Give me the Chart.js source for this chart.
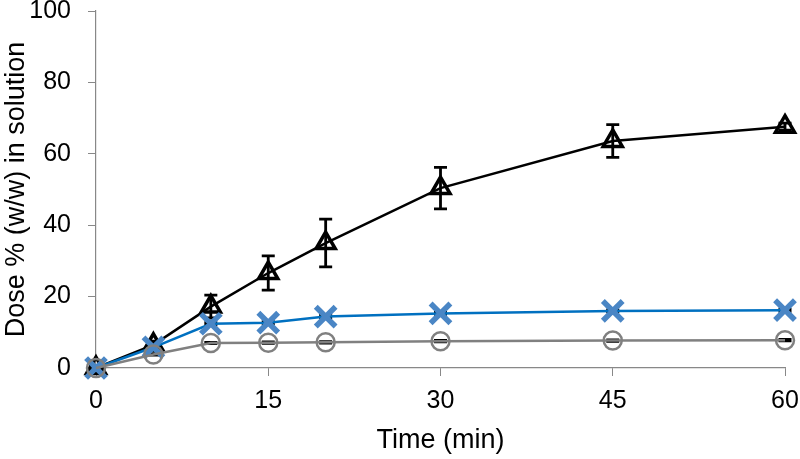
<!DOCTYPE html>
<html>
<head>
<meta charset="utf-8">
<script src="https://cdn.jsdelivr.net/npm/chart.js@4.4.0/dist/chart.umd.min.js"></script>
<style>
  html, body { margin: 0; padding: 0; background: #fff; }
  #wrap { width: 800px; height: 459px; }
</style>
</head>
<body>
<div id="wrap"><canvas id="chart1" width="800" height="459"></canvas></div>
<script>
// Time points (min)
var times = [0, 5, 10, 15, 20, 30, 45, 60];

// Dose % (w/w) in solution
var triangleValues = [0, 6.5, 17.2, 26.6, 35.0, 50.4, 63.6, 67.6];
var triangleErr = [0.5, 1.0, 3.2, 4.8, 6.7, 5.8, 4.6, 1.0];

var crossValues = [0, 5.8, 12.4, 12.7, 14.4, 15.3, 16.0, 16.2];
var crossErr = [0, 0.3, 0.3, 0.3, 0.3, 0.3, 0.3, 0.3];

var circleValues = [0, 3.8, 7.0, 7.1, 7.2, 7.5, 7.7, 7.8];
var circleErr = [0, 0.2, 0.2, 0.2, 0.2, 0.2, 0.2, 0.2];

var xTicks = [0, 15, 30, 45, 60];
var yTicks = [0, 20, 40, 60, 80, 100];

function toPoints(values) {
    return times.map(function(t, i) { return { x: t, y: values[i] }; });
}

// Plugin to draw vertical error bars (under the markers) using the chart scales
var errorBars = {
    id: 'errorBars',
    beforeDatasetsDraw: function(chart) {
        var ctx = chart.ctx;
        var xs = chart.scales.x;
        var ys = chart.scales.y;
        chart.data.datasets.forEach(function(ds) {
            if (!ds.errors) return;
            ctx.save();
            ctx.strokeStyle = '#000';
            ctx.lineWidth = 2.8;
            ds.data.forEach(function(p, i) {
                var e = ds.errors[i];
                if (!e) return;
                var px = xs.getPixelForValue(p.x);
                var top = ys.getPixelForValue(p.y + e);
                var bot = ys.getPixelForValue(p.y - e);
                var cap = 6.5;
                ctx.beginPath();
                ctx.moveTo(px, top); ctx.lineTo(px, bot);
                ctx.moveTo(px - cap, top); ctx.lineTo(px + cap, top);
                ctx.moveTo(px - cap, bot); ctx.lineTo(px + cap, bot);
                ctx.stroke();
            });
            ctx.restore();
        });
    }
};

var tickFont = { family: 'Liberation Sans', size: 25 };
var titleFont = { family: 'Liberation Sans', size: 27 };

document.addEventListener('DOMContentLoaded', function() {
    var ctx1 = document.getElementById('chart1').getContext('2d');
    var chart = new Chart(ctx1, {
        type: 'line',
        data: {
            datasets: [{
                label: 'Circle',
                data: toPoints(circleValues),
                errors: circleErr,
                clip: false,
                borderColor: '#808080',
                borderWidth: 2.5,
                pointStyle: 'circle',
                pointRadius: 9,
                pointBorderWidth: 2.5,
                pointBorderColor: '#808080',
                pointBackgroundColor: 'rgba(255,255,255,0)',
                tension: 0
            }, {
                label: 'Cross',
                data: toPoints(crossValues),
                errors: crossErr,
                clip: false,
                borderColor: '#0070C0',
                borderWidth: 2.5,
                pointStyle: 'crossRot',
                pointRadius: 14,
                pointBorderWidth: 5.5,
                pointBorderColor: '#4A86C5',
                tension: 0
            }, {
                label: 'Triangle',
                data: toPoints(triangleValues),
                errors: triangleErr,
                clip: false,
                borderColor: '#000000',
                borderWidth: 2.5,
                pointStyle: 'triangle',
                pointRadius: 11,
                pointBorderWidth: 3.5,
                pointBorderColor: '#000000',
                pointBackgroundColor: 'rgba(255,255,255,0)',
                tension: 0
            }]
        },
        options: {
            responsive: false,
            animation: false,
            layout: { autoPadding: false, padding: { top: 11, right: 15, left: 0, bottom: 0 } },
            plugins: {
                legend: { display: false },
                tooltip: { enabled: false }
            },
            scales: {
                x: {
                    type: 'linear',
                    min: 0,
                    max: 60,
                    afterBuildTicks: function(scale) {
                        scale.ticks = xTicks.map(function(v) { return { value: v }; });
                    },
                    afterFit: function(scale) {
                        scale.height = 91;
                        scale.paddingLeft = 0;
                        scale.paddingRight = 0;
                    },
                    grid: { drawOnChartArea: false, tickLength: 8, color: '#888', lineWidth: 1 },
                    border: { color: '#888', width: 1.2 },
                    ticks: { color: '#000', font: tickFont, padding: 10, maxRotation: 0 },
                    title: { display: true, text: 'Time (min)', color: '#000', font: titleFont, padding: { top: 0, bottom: 2 } }
                },
                y: {
                    min: 0,
                    max: 100,
                    afterBuildTicks: function(scale) {
                        scale.ticks = yTicks.map(function(v) { return { value: v }; });
                    },
                    afterFit: function(scale) {
                        scale.width = 96;
                        scale.paddingTop = 0;
                        scale.paddingBottom = 0;
                    },
                    grid: { drawOnChartArea: false, tickLength: 8, color: '#888', lineWidth: 1 },
                    border: { color: '#888', width: 1.2 },
                    ticks: { color: '#000', font: tickFont, padding: 17 },
                    title: { display: true, text: 'Dose % (w/w) in solution', color: '#000', font: titleFont, padding: { top: 0, bottom: 0 } }
                }
            }
        },
        plugins: [errorBars]
    });
});
</script>
</body>
</html>
